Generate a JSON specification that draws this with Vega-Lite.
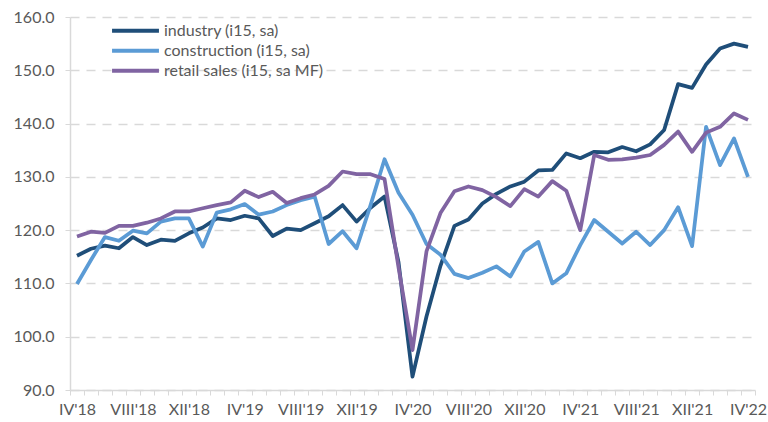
{
  "$schema": "https://vega.github.io/schema/vega-lite/v6.json",
  "width": 685,
  "height": 373,
  "autosize": "none",
  "padding": {"left": 70, "top": 17, "right": 13, "bottom": 32},
  "background": "white",
  "config": {"view": {"stroke": null}, "font": "Lato"},
  "data": {"values": [
    {"m": "IV'18", "industry (i15, sa)": 115.2, "construction (i15, sa)": 109.9, "retail sales (i15, sa MF)": 118.8},
    {"m": "V'18", "industry (i15, sa)": 116.5, "construction (i15, sa)": 114.4, "retail sales (i15, sa MF)": 119.7},
    {"m": "VI'18", "industry (i15, sa)": 117.1, "construction (i15, sa)": 118.7, "retail sales (i15, sa MF)": 119.5},
    {"m": "VII'18", "industry (i15, sa)": 116.6, "construction (i15, sa)": 118.0, "retail sales (i15, sa MF)": 120.8},
    {"m": "VIII'18", "industry (i15, sa)": 118.7, "construction (i15, sa)": 119.9, "retail sales (i15, sa MF)": 120.8},
    {"m": "IX'18", "industry (i15, sa)": 117.2, "construction (i15, sa)": 119.4, "retail sales (i15, sa MF)": 121.4},
    {"m": "X'18", "industry (i15, sa)": 118.2, "construction (i15, sa)": 121.6, "retail sales (i15, sa MF)": 122.2},
    {"m": "XI'18", "industry (i15, sa)": 118.0, "construction (i15, sa)": 122.2, "retail sales (i15, sa MF)": 123.5},
    {"m": "XII'18", "industry (i15, sa)": 119.4, "construction (i15, sa)": 122.2, "retail sales (i15, sa MF)": 123.5},
    {"m": "I'19", "industry (i15, sa)": 120.5, "construction (i15, sa)": 116.9, "retail sales (i15, sa MF)": 124.1},
    {"m": "II'19", "industry (i15, sa)": 122.2, "construction (i15, sa)": 123.3, "retail sales (i15, sa MF)": 124.7},
    {"m": "III'19", "industry (i15, sa)": 121.9, "construction (i15, sa)": 123.9, "retail sales (i15, sa MF)": 125.2},
    {"m": "IV'19", "industry (i15, sa)": 122.7, "construction (i15, sa)": 124.9, "retail sales (i15, sa MF)": 127.4},
    {"m": "V'19", "industry (i15, sa)": 122.2, "construction (i15, sa)": 122.9, "retail sales (i15, sa MF)": 126.2},
    {"m": "VI'19", "industry (i15, sa)": 118.9, "construction (i15, sa)": 123.5, "retail sales (i15, sa MF)": 127.2},
    {"m": "VII'19", "industry (i15, sa)": 120.3, "construction (i15, sa)": 124.7, "retail sales (i15, sa MF)": 125.1},
    {"m": "VIII'19", "industry (i15, sa)": 120.0, "construction (i15, sa)": 125.6, "retail sales (i15, sa MF)": 126.0},
    {"m": "IX'19", "industry (i15, sa)": 121.3, "construction (i15, sa)": 126.3, "retail sales (i15, sa MF)": 126.7},
    {"m": "X'19", "industry (i15, sa)": 122.6, "construction (i15, sa)": 117.4, "retail sales (i15, sa MF)": 128.3},
    {"m": "XI'19", "industry (i15, sa)": 124.7, "construction (i15, sa)": 119.8, "retail sales (i15, sa MF)": 131.0},
    {"m": "XII'19", "industry (i15, sa)": 121.6, "construction (i15, sa)": 116.6, "retail sales (i15, sa MF)": 130.5},
    {"m": "I'20", "industry (i15, sa)": 124.2, "construction (i15, sa)": 124.7, "retail sales (i15, sa MF)": 130.5},
    {"m": "II'20", "industry (i15, sa)": 126.3, "construction (i15, sa)": 133.3, "retail sales (i15, sa MF)": 129.6},
    {"m": "III'20", "industry (i15, sa)": 114.0, "construction (i15, sa)": 127.0, "retail sales (i15, sa MF)": 113.0},
    {"m": "IV'20", "industry (i15, sa)": 92.5, "construction (i15, sa)": 122.9, "retail sales (i15, sa MF)": 97.5},
    {"m": "V'20", "industry (i15, sa)": 103.8, "construction (i15, sa)": 117.4, "retail sales (i15, sa MF)": 116.0},
    {"m": "VI'20", "industry (i15, sa)": 113.3, "construction (i15, sa)": 115.4, "retail sales (i15, sa MF)": 123.2},
    {"m": "VII'20", "industry (i15, sa)": 120.8, "construction (i15, sa)": 111.8, "retail sales (i15, sa MF)": 127.3},
    {"m": "VIII'20", "industry (i15, sa)": 122.0, "construction (i15, sa)": 111.0, "retail sales (i15, sa MF)": 128.2},
    {"m": "IX'20", "industry (i15, sa)": 125.0, "construction (i15, sa)": 112.0, "retail sales (i15, sa MF)": 127.5},
    {"m": "X'20", "industry (i15, sa)": 126.8, "construction (i15, sa)": 113.2, "retail sales (i15, sa MF)": 126.2},
    {"m": "XI'20", "industry (i15, sa)": 128.2, "construction (i15, sa)": 111.3, "retail sales (i15, sa MF)": 124.5},
    {"m": "XII'20", "industry (i15, sa)": 129.1, "construction (i15, sa)": 116.0, "retail sales (i15, sa MF)": 127.7},
    {"m": "I'21", "industry (i15, sa)": 131.2, "construction (i15, sa)": 117.8, "retail sales (i15, sa MF)": 126.3},
    {"m": "II'21", "industry (i15, sa)": 131.3, "construction (i15, sa)": 110.0, "retail sales (i15, sa MF)": 129.2},
    {"m": "III'21", "industry (i15, sa)": 134.4, "construction (i15, sa)": 111.9, "retail sales (i15, sa MF)": 127.4},
    {"m": "IV'21", "industry (i15, sa)": 133.5, "construction (i15, sa)": 117.2, "retail sales (i15, sa MF)": 120.0},
    {"m": "V'21", "industry (i15, sa)": 134.7, "construction (i15, sa)": 121.9, "retail sales (i15, sa MF)": 134.1},
    {"m": "VI'21", "industry (i15, sa)": 134.6, "construction (i15, sa)": 119.7, "retail sales (i15, sa MF)": 133.2},
    {"m": "VII'21", "industry (i15, sa)": 135.6, "construction (i15, sa)": 117.5, "retail sales (i15, sa MF)": 133.3},
    {"m": "VIII'21", "industry (i15, sa)": 134.8, "construction (i15, sa)": 119.7, "retail sales (i15, sa MF)": 133.6},
    {"m": "IX'21", "industry (i15, sa)": 136.1, "construction (i15, sa)": 117.2, "retail sales (i15, sa MF)": 134.1},
    {"m": "X'21", "industry (i15, sa)": 138.8, "construction (i15, sa)": 120.0, "retail sales (i15, sa MF)": 136.0},
    {"m": "XI'21", "industry (i15, sa)": 147.4, "construction (i15, sa)": 124.3, "retail sales (i15, sa MF)": 138.5},
    {"m": "XII'21", "industry (i15, sa)": 146.7, "construction (i15, sa)": 117.0, "retail sales (i15, sa MF)": 134.7},
    {"m": "I'22", "industry (i15, sa)": 151.1, "construction (i15, sa)": 139.4, "retail sales (i15, sa MF)": 138.3},
    {"m": "II'22", "industry (i15, sa)": 154.1, "construction (i15, sa)": 132.2, "retail sales (i15, sa MF)": 139.4},
    {"m": "III'22", "industry (i15, sa)": 155.0, "construction (i15, sa)": 137.2, "retail sales (i15, sa MF)": 141.9},
    {"m": "IV'22", "industry (i15, sa)": 154.4, "construction (i15, sa)": 130.0, "retail sales (i15, sa MF)": 140.7}
  ]},
  "transform": [
    {"fold": ["industry (i15, sa)", "construction (i15, sa)", "retail sales (i15, sa MF)"], "as": ["series", "value"]}
  ],
  "mark": {"type": "line", "strokeWidth": 3.75, "strokeJoin": "round"},
  "encoding": {
    "x": {
      "field": "m", "type": "ordinal", "sort": null, "bandPosition": 0.5,
      "scale": {"type": "band", "paddingInner": 0, "paddingOuter": 0},
      "axis": {
        "title": null, "tickBand": "extent", "grid": false,
        "domainColor": "#d9d9d9", "domainWidth": 1.5,
        "tickColor": "#d9d9d9", "tickSize": 5, "tickWidth": 1,
        "labelAngle": 0, "labelColor": "#595959", "labelFontSize": 16,
        "labelPadding": 6, "labelOverlap": false,
        "labelExpr": "test(/^(IV|VIII|XII)'/, datum.label) ? datum.label : ''"
      }
    },
    "y": {
      "field": "value", "type": "quantitative",
      "scale": {"domain": [90, 160], "nice": false, "zero": false},
      "axis": {
        "title": null, "values": [90, 100, 110, 120, 130, 140, 150, 160], "format": ".1f",
        "grid": true, "gridDash": [9, 7], "gridColor": "#d9d9d9", "gridWidth": 1.5,
        "domainColor": "#d9d9d9", "domainWidth": 1.5,
        "tickColor": "#d9d9d9", "tickSize": 5,
        "labelColor": "#595959", "labelFontSize": 16, "labelPadding": 11
      }
    },
    "color": {
      "field": "series", "type": "nominal",
      "scale": {
        "domain": ["industry (i15, sa)", "construction (i15, sa)", "retail sales (i15, sa MF)"],
        "range": ["#1f4e79", "#5b9bd5", "#8064a2"]
      },
      "legend": {
        "orient": "none", "legendX": 40, "legendY": 4, "title": null,
        "symbolType": "stroke", "symbolSize": 2200, "symbolStrokeWidth": 4,
        "labelFontSize": 16, "labelColor": "#595959", "clipHeight": 19.5,
        "rowPadding": 0, "labelOffset": 3, "padding": 0
      }
    }
  }
}
